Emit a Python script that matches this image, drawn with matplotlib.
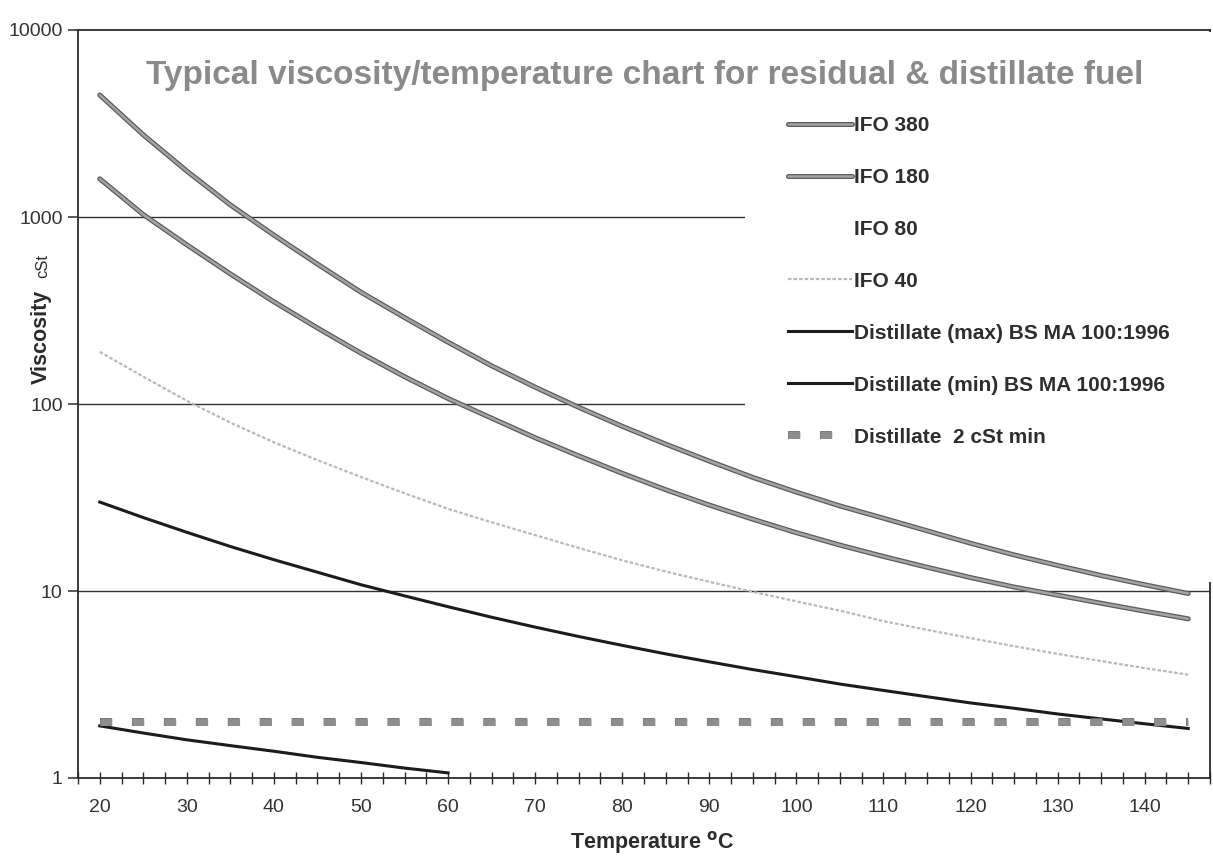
import matplotlib
matplotlib.use("Agg")
import matplotlib.pyplot as plt
import matplotlib.patheffects as pe
from matplotlib.patches import Rectangle
from matplotlib.ticker import MultipleLocator, FixedLocator, NullLocator, NullFormatter

plt.rcParams['font.family'] = ['Liberation Sans', 'DejaVu Sans']

# ---------------- data ----------------
temp = [20, 25, 30, 35, 40, 45, 50, 55, 60, 65, 70, 75, 80, 85, 90, 95,
        100, 105, 110, 115, 120, 125, 130, 135, 140, 145]
ifo380 = [4490, 2750, 1760, 1160, 800, 560, 396, 290, 214, 160, 123, 96, 76,
          61, 49.5, 40.5, 33.8, 28.5, 24.5, 21.0, 18.0, 15.6, 13.7, 12.1, 10.8, 9.7]
ifo180 = [1600, 1030, 710, 496, 352, 255, 187, 140, 107, 84, 66, 52.8, 42.6,
          34.8, 28.8, 24.2, 20.5, 17.6, 15.3, 13.4, 11.8, 10.5, 9.5, 8.6, 7.8, 7.1]
ifo80_temp = []
ifo80 = []
ifo40 = [190, 140, 104, 79.5, 62.4, 50.1, 40.7, 33.3, 27.5, 23.3, 19.9, 17.0,
         14.6, 12.7, 11.2, 9.9, 8.8, 7.85, 6.9, 6.2, 5.6, 5.07, 4.61, 4.22, 3.87, 3.57]
dist_max = [29.9, 24.7, 20.6, 17.3, 14.7, 12.6, 10.8, 9.42, 8.24, 7.24, 6.41, 5.71,
            5.12, 4.61, 4.18, 3.80, 3.48, 3.18, 2.94, 2.72, 2.52, 2.36, 2.20, 2.07, 1.95, 1.84]
temp_min = [20, 25, 30, 35, 40, 45, 50, 55, 60]
dist_min = [1.9, 1.74, 1.6, 1.49, 1.39, 1.29, 1.21, 1.13, 1.065]
temp_2cst = [20, 145]
dist_2cst = [2.0, 2.0]

labels = ["IFO 380", "IFO 180", "IFO 80", "IFO 40",
          "Distillate (max) BS MA 100:1996", "Distillate (min) BS MA 100:1996",
          "Distillate  2 cSt min"]
y_ticks = [1, 10, 100, 1000, 10000]
y_ticklabels = ["1", "10", "100", "1000", "10000"]
x_major = [20, 30, 40, 50, 60, 70, 80, 90, 100, 110, 120, 130, 140]
title = "Typical viscosity/temperature chart for residual & distillate fuel"

# ---------------- figure ----------------
W, H = 1213, 858
fig = plt.figure(figsize=(W / 100, H / 100), dpi=100)
L, R, T, B = 78, 1210, 30, 778
ax = fig.add_axes([L / W, 1 - B / H, (R - L) / W, (B - T) / H])
ax.set_yscale('log')
ax.set_xlim(17.5, 147.5)
ax.set_ylim(1, 10000)

ink = '#2b2b2b'
for s in ax.spines.values():
    s.set_color(ink)
    s.set_linewidth(1.3)

# gridlines
for g in [10, 100, 1000]:
    ax.axhline(g, color='#333333', lw=1.0, zorder=1)

# white area behind legend (hides grid and right spine like the reference)
ax.add_patch(Rectangle((0.589, 0.262), 0.42, 0.735, transform=ax.transAxes,
                       facecolor='white', edgecolor='none', zorder=3, clip_on=False))

grey_fx = [pe.Stroke(linewidth=3.6, foreground='#5c5c5c'), pe.Normal()]
ax.plot(temp, ifo380, color='#a3a3a3', lw=1.8, path_effects=grey_fx,
        solid_capstyle='round', label=labels[0], zorder=4)
ax.plot(temp, ifo180, color='#a3a3a3', lw=1.8, path_effects=grey_fx,
        solid_capstyle='round', label=labels[1], zorder=4)
ax.plot(ifo80_temp, ifo80, color='white', lw=2, label=labels[2], zorder=4)
ax.plot(temp, ifo40, color='#b8b8b8', lw=1.6, ls=(0, (1.6, 0.9)),
        label=labels[3], zorder=4)
ax.plot(temp, dist_max, color='#1c1c1c', lw=2.2, label=labels[4], zorder=4)
ax.plot(temp_min, dist_min, color='#1c1c1c', lw=2.2, label=labels[5], zorder=4)
ax.plot(temp_2cst, dist_2cst, color='#8e8e8e', lw=5, ls=(0, (1.7, 2.9)),
        label=labels[6], zorder=4,
        path_effects=[pe.Stroke(linewidth=5.6, foreground='#6a6a6a'), pe.Normal()])

# ticks
ax.yaxis.set_major_locator(FixedLocator(y_ticks))
ax.set_yticklabels(y_ticklabels)
ax.yaxis.set_minor_locator(NullLocator())
ax.yaxis.set_minor_formatter(NullFormatter())
ax.xaxis.set_major_locator(FixedLocator(x_major))
ax.xaxis.set_minor_locator(MultipleLocator(2.5))
ax.tick_params(axis='y', which='major', direction='out', length=7, width=1.1,
               color=ink, labelsize=14, labelcolor='#333333', pad=4)
ax.tick_params(axis='x', which='both', direction='inout', length=8, width=1.0,
               color=ink, labelsize=14, labelcolor='#333333', pad=11)
ax.tick_params(axis='x', which='minor', length=8)

# title & axis labels
fig.text(645 / W, 1 - 84 / H, title, ha='center', va='baseline', fontsize=24,
         fontweight='bold', color='#8a8a8a')
fig.text(652 / W, 1 - 843 / H, r'Temperature $^{\mathbf{o}}$C', ha='center',
         va='center', fontsize=15.5, fontweight='bold', color='#2b2b2b')
fig.text(47 / W, 1 - 337 / H, 'Viscosity', rotation=90, rotation_mode='anchor',
         ha='center', va='baseline', fontsize=15.5, fontweight='bold', color='#2b2b2b')
fig.text(47 / W, 1 - 266 / H, 'cSt', rotation=90, rotation_mode='anchor',
         ha='center', va='baseline', fontsize=12, color='#2b2b2b')

# legend
leg = ax.legend(loc='upper left', bbox_to_anchor=(788 / W, 1 - 116 / H),
                bbox_transform=fig.transFigure, frameon=False, borderpad=0,
                borderaxespad=0, handlelength=3.05, handletextpad=0.14,
                labelspacing=1.58,
                prop={'weight': 'bold', 'size': 15})
for t in leg.get_texts():
    t.set_color('#2e2e2e')
leg.set_zorder(6)

fig.savefig('out.png', dpi=100)
